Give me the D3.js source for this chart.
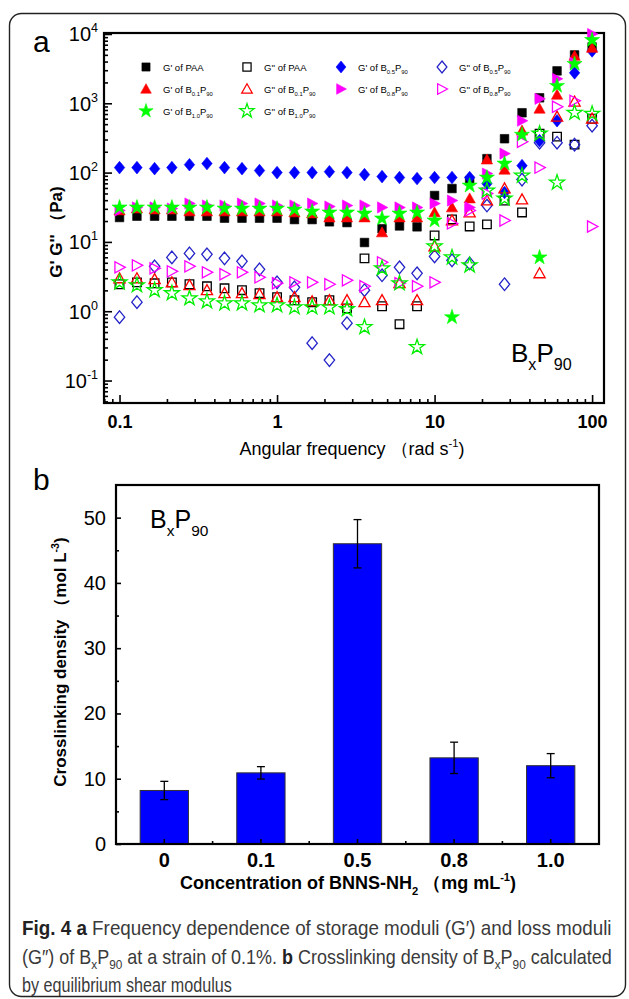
<!DOCTYPE html>
<html><head><meta charset="utf-8">
<script src="https://cdn.jsdelivr.net/npm/d3@7"></script>
<style>body{margin:0;background:#fff}svg{display:block}text{font-family:Arial,"Liberation Sans",sans-serif}</style>
</head><body><svg id="c" width="629" height="999"></svg>
<script>
// ---------- Panel a data ----------
const freq = [0.1,0.129,0.167,0.215,0.278,0.359,0.464,0.599,0.774,1,1.29,1.67,2.15,2.78,3.59,4.64,5.99,7.74,10,12.9,16.7,21.5,27.8,35.9,46.4,59.9,77.4,100];
const gpPAA   = [22.5,23.5,23.5,23.5,23.5,23.5,22.0,22.0,22.0,22.0,21.0,21.0,19.5,19.0,9.8,15.5,17.0,16.5,46.7,58.9,76.7,159,308,730,1200,2935,4990,6500];
const gppPAA  = [2.45,2.61,2.53,2.61,2.45,2.29,2.14,2.01,1.82,1.59,1.44,1.35,1.44,1.10,5.79,1.18,0.65,1.18,12.4,21.1,16.7,17.9,39.5,26.6,364,330,253,598];
const gpB05   = [118,118,114,118,130,135,118,114,107,100,100,100,103,100,93.6,87.6,84.8,82.0,84.8,84.8,84.8,69.4,51.5,126,289,560,2747,5692];
const gppB05  = [0.82,1.35,4.44,5.98,6.83,6.61,5.79,5.24,4.02,2.61,2.21,0.346,0.197,0.672,2.01,3.30,4.30,3.52,6.18,5.42,4.90,33.5,2.45,79.3,270,270,253,475];
const gpB01   = [28.4,30.3,29.3,29.3,27.5,27.5,27.5,27.5,27.5,27.5,26.6,25.7,22.5,22.5,22.5,13.7,22.5,22.5,26.6,31.4,42.3,154,110,402,834,1326,4826,6290];
const gppB01  = [2.98,2.98,2.89,2.61,2.37,2.01,1.82,1.82,1.76,1.59,1.59,1.39,1.44,1.44,1.35,1.44,2.53,1.44,8.62,20.4,26.6,39.5,58.9,40.9,3.52,639,1051,598];
const gpB08   = [28.4,31.4,31.4,30.3,35.8,33.5,33.5,35.8,35.8,33.5,33.5,35.8,32.4,33.5,33.5,31.4,31.4,31.4,35.8,39.5,31.4,96.7,188,560,1161,2252,3825,10000];
const gppB08  = [4.30,4.59,4.16,3.76,4.44,3.64,3.41,3.64,3.08,2.53,2.61,2.61,2.45,2.79,2.29,5.07,2.53,2.29,2.61,18.5,28.4,49.9,20.4,279,118,890,1086,16.7];
const gpB10   = [31.4,31.4,31.4,31.4,31.4,31.4,30.3,30.3,30.3,30.3,29.3,27.5,26.6,26.6,25.7,21.8,25.7,26.6,20.4,0.82,65.0,84.8,135,352,5.98,1786,3700,8199];
const gppB10  = [2.61,2.37,2.01,1.82,1.54,1.39,1.30,1.30,1.22,1.22,1.14,1.14,1.14,1.07,0.589,4.16,2.53,0.303,8.62,5.98,4.59,55.1,42.3,90.5,364,71.8,730,706];
const xTicksA = [0.1,1,10,100];
const xTickLabelsA = ["0.1","1","10","100"];
const yTicksA = [0.1,1,10,100,1000,10000];
const yTickExpA = ["-1","0","1","2","3","4"];

// ---------- Panel b data ----------
const concCats = ["0","0.1","0.5","0.8","1.0"];
const crossDensity = [8.2,10.9,46.0,13.2,12.0];
const crossErr = [1.4,0.95,3.7,2.4,1.85];
const yTicksB = [0,10,20,30,40,50];

const svg = d3.select("#c");
const AR = "Arial,'Liberation Sans',sans-serif";

function rich(sel, parts, base){
  let shift = 0;
  parts.forEach(p=>{
    const t=p[0], k=p[1]||"n";
    const target = k==="sub"? base*0.32 : k==="sup"? -base*0.42 : 0;
    const s = sel.append("tspan").text(t).attr("dy", target-shift);
    shift = target;
    if(k==="sub"||k==="sup") s.attr("font-size", base*0.62);
  });
}

svg.append("rect").attr("x",9.5).attr("y",13.5).attr("width",616).attr("height",983)
  .attr("rx",12).attr("fill","none").attr("stroke","#222").attr("stroke-width",1.4);

// ================= Panel a =================
const xA = d3.scaleLog().domain([0.0797,119]).range([104,604]);
const yA = d3.scaleLog().domain([0.0474,10330]).range([403,33]);
const gA = svg.append("g");

const xMinorA=[], yMinorA=[];
[0.01,0.1,1,10,100].forEach(d=>{for(let k=2;k<=9;k++){const v=d*k; if(v>0.079&&v<119) xMinorA.push(v);}});
[0.01,0.1,1,10,100,1000].forEach(d=>{for(let k=2;k<=9;k++){const v=d*k; if(v>0.0474&&v<10330) yMinorA.push(v);}});

function styleAxis(g){ g.select(".domain").remove(); g.selectAll(".tick line").attr("stroke","#000").attr("stroke-width",1.6); }

gA.append("g").attr("transform","translate(0,403)")
  .call(d3.axisBottom(xA).tickValues(xMinorA).tickSize(-4).tickFormat("")).call(styleAxis);
gA.append("g").attr("transform","translate(0,403)")
  .call(d3.axisBottom(xA).tickValues(xTicksA).tickSize(-8).tickPadding(12).tickFormat((d,i)=>xTickLabelsA[i]))
  .call(styleAxis)
  .call(g=>g.selectAll("text").attr("font-size",18).attr("font-weight","bold").attr("fill","#000").attr("font-family",AR));
gA.append("g").attr("transform","translate(104,0)")
  .call(d3.axisLeft(yA).tickValues(yMinorA).tickSize(-4).tickFormat("")).call(styleAxis);
const yAx = gA.append("g").attr("transform","translate(104,0)")
  .call(d3.axisLeft(yA).tickValues(yTicksA).tickSize(-8).tickFormat("")).call(styleAxis);
yAx.selectAll(".tick").each(function(d,i){
  const t = d3.select(this).append("text").attr("x",-6).attr("y",7).attr("text-anchor","end")
    .attr("fill","#000").attr("font-size",20).attr("font-family",AR);
  t.append("tspan").text("10");
  t.append("tspan").text(yTickExpA[i]).attr("font-size",12.5).attr("dy",-9);
});

gA.append("rect").attr("x",104).attr("y",33).attr("width",500).attr("height",370)
  .attr("fill","none").attr("stroke","#000").attr("stroke-width",2.2);

const P = {
  square: "M-4.3,-4.3H4.3V4.3H-4.3Z",
  diamond: "M0,-6.3L5.2,0L0,6.3L-5.2,0Z",
  triUp: "M0,-5.6L5.6,4.4L-5.6,4.4Z",
  triRight: "M-4.6,-5.6L5.8,0L-4.6,5.6Z",
  star: d3.symbol(d3.symbolStar,70)()
};
const series = [
  {data:gpPAA,  shape:"square",  color:"#000", filled:true,  label:[["G' of PAA"]]},
  {data:gppPAA, shape:"square",  color:"#000", filled:false, label:[["G'' of PAA"]]},
  {data:gpB05,  shape:"diamond", color:"#0000ff", filled:true, label:[["G' of B"],["0.5","sub"],["P"],["90","sub"]]},
  {data:gppB05, shape:"diamond", color:"#2323c8", filled:false, label:[["G'' of B"],["0.5","sub"],["P"],["90","sub"]]},
  {data:gpB01,  shape:"triUp",   color:"#ff0000", filled:true, label:[["G' of B"],["0.1","sub"],["P"],["90","sub"]]},
  {data:gppB01, shape:"triUp",   color:"#ff0000", filled:false, label:[["G'' of B"],["0.1","sub"],["P"],["90","sub"]]},
  {data:gpB08,  shape:"triRight",color:"#ff00ff", filled:true, label:[["G' of B"],["0.8","sub"],["P"],["90","sub"]]},
  {data:gppB08, shape:"triRight",color:"#ff00ff", filled:false, label:[["G'' of B"],["0.8","sub"],["P"],["90","sub"]]},
  {data:gpB10,  shape:"star",    color:"#00ff00", filled:true, label:[["G' of B"],["1.0","sub"],["P"],["90","sub"]]},
  {data:gppB10, shape:"star",    color:"#00ee00", filled:false, label:[["G'' of B"],["1.0","sub"],["P"],["90","sub"]]}
];
function mark(sel, s){
  sel.attr("d",P[s.shape])
    .attr("fill", s.filled? s.color : "none")
    .attr("stroke", s.color).attr("stroke-width", s.filled?0.6:1.3);
}
const plotG = gA.append("g");
series.forEach(s=>{
  plotG.append("g").selectAll("path").data(s.data.map((v,i)=>[freq[i],v])).join("path")
    .attr("transform",d=>`translate(${xA(d[0])},${yA(d[1])})`)
    .call(sel=>mark(sel,s));
});

const legX = [146,247,341,442], legY=[67,89,111];
series.forEach((s,i)=>{
  const col = i%4, row = Math.floor(i/4);
  const g = gA.append("g").attr("transform",`translate(${legX[col]},${legY[row]})`);
  g.append("path").attr("transform","scale(0.95)").call(sel=>mark(sel,s));
  const t = g.append("text").attr("x",17).attr("y",4).attr("font-size",9.5).attr("fill","#000");
  rich(t, s.label, 9.5);
});

{
  const t = gA.append("text").attr("x",511).attr("y",362).attr("font-size",26).attr("fill","#000");
  rich(t,[["B"],["x","sub"],["P"],["90","sub"]],26);
}
{
  const t = svg.append("text").attr("x",352).attr("y",455).attr("text-anchor","middle").attr("font-size",18).attr("fill","#000");
  rich(t,[["Angular frequency  （rad s"],["-1","sup"],[")"]],18);
  svg.append("text").attr("transform","translate(62,232) rotate(-90)").attr("text-anchor","middle")
    .attr("font-size",17).attr("font-weight","bold").attr("fill","#000").text("G' G''  （Pa)");
}
svg.append("text").attr("x",33).attr("y",52).attr("font-size",30).attr("fill","#000").text("a");

// ================= Panel b =================
const xB = d3.scaleBand().domain(concCats).range([116,599]).paddingInner(0.5).paddingOuter(0.25);
const yB = d3.scaleLinear().domain([0,55]).range([844,485]);
const gB = svg.append("g");

gB.selectAll("rect.bar").data(crossDensity).join("rect").attr("class","bar")
  .attr("x",(d,i)=>xB(concCats[i])).attr("width",xB.bandwidth())
  .attr("y",d=>yB(d)).attr("height",d=>yB(0)-yB(d))
  .attr("fill","#0000ff").attr("stroke","#333").attr("stroke-width",1);

const eb = gB.append("g").attr("stroke","#000").attr("stroke-width",1.3);
crossDensity.forEach((v,i)=>{
  const cx = xB(concCats[i])+xB.bandwidth()/2;
  eb.append("line").attr("x1",cx).attr("x2",cx).attr("y1",yB(v+crossErr[i])).attr("y2",yB(v-crossErr[i]));
  eb.append("line").attr("x1",cx-4).attr("x2",cx+4).attr("y1",yB(v+crossErr[i])).attr("y2",yB(v+crossErr[i]));
  eb.append("line").attr("x1",cx-4).attr("x2",cx+4).attr("y1",yB(v-crossErr[i])).attr("y2",yB(v-crossErr[i]));
});

const yMinorB = yTicksB.slice(0,-1).map(d=>d+5);
gB.append("g").attr("transform","translate(116,0)")
  .call(d3.axisLeft(yB).tickValues(yMinorB).tickSize(-3).tickFormat("")).call(styleAxis);
gB.append("g").attr("transform","translate(116,0)")
  .call(d3.axisLeft(yB).tickValues(yTicksB).tickSize(-5).tickPadding(10))
  .call(styleAxis)
  .call(g=>g.selectAll("text").attr("font-size",20).attr("fill","#000").attr("font-family",AR));
gB.append("g").attr("transform","translate(0,844)")
  .call(d3.axisBottom(xB).tickSize(-5).tickPadding(9))
  .call(styleAxis)
  .call(g=>g.selectAll("text").attr("font-size",20).attr("font-weight","bold").attr("fill","#000").attr("font-family",AR));
const minorXB = concCats.slice(0,-1).map(c=>xB(c)+xB.bandwidth()/2+xB.step()/2);
gB.append("g").selectAll("line").data(minorXB).join("line")
  .attr("x1",d=>d).attr("x2",d=>d).attr("y1",844).attr("y2",841)
  .attr("stroke","#000").attr("stroke-width",1.6);

gB.append("rect").attr("x",116).attr("y",485).attr("width",483).attr("height",359)
  .attr("fill","none").attr("stroke","#000").attr("stroke-width",2.2);

{
  const t = gB.append("text").attr("x",150).attr("y",528).attr("font-size",25).attr("fill","#000");
  rich(t,[["B"],["x","sub"],["P"],["90","sub"]],25);
  const tx = svg.append("text").attr("x",348).attr("y",889).attr("text-anchor","middle").attr("font-size",18).attr("font-weight","bold").attr("fill","#000");
  rich(tx,[["Concentration of BNNS-NH"],["2","sub"],["  （mg mL"],["-1","sup"],[")"]],18);
  const ty = svg.append("text").attr("transform","translate(66,662) rotate(-90)").attr("text-anchor","middle")
    .attr("font-size",17).attr("font-weight","bold").attr("fill","#000");
  rich(ty,[["Crosslinking density  （mol L"],["-3","sup"],[")"]],17);
}
svg.append("text").attr("x",33).attr("y",490).attr("font-size",30).attr("fill","#000").text("b");

// ================= Caption =================
const capFont = "Lato,'Open Sans',Roboto,sans-serif";
function capLine(y, parts){
  const g = svg.append("g").attr("transform",`translate(22,${y})`);
  const t = g.append("text").attr("x",0).attr("y",0).attr("font-size",20.5).attr("fill","#3a3a3a")
    .attr("font-family",capFont).attr("font-weight",300);
  let shift=0;
  parts.forEach(p=>{
    const k=p[1]||"n";
    const target2 = k==="sub"?5:0;
    const s=t.append("tspan").text(p[0]).attr("dy",target2-shift); shift=target2;
    if(k==="sub") s.attr("font-size",13.5);
    if(k==="b") s.attr("font-weight","bold").attr("fill","#222");
  });
  return {g, len: t.node().getComputedTextLength()};
}
const c1 = capLine(935,[["Fig. 4","b"],[" "],["a","b"],[" Frequency dependence of storage moduli (G′) and loss moduli"]]);
const c2 = capLine(964,[["(G″) of B"],["x","sub"],["P"],["90","sub"],[" at a strain of 0.1%. "],["b","b"],[" Crosslinking density of B"],["x","sub"],["P"],["90","sub"],[" calculated"]]);
const c3 = capLine(992,[["by equilibrium shear modulus"]]);
const k1 = c1.len>0 ? 590/c1.len : 1;
const k2 = c2.len>0 ? 590/c2.len : 1;
const k3 = c3.len>0 ? Math.max(210/c3.len, k1*0.85) : 1;
c1.g.attr("transform",`translate(22,935) scale(${k1},1)`);
c2.g.attr("transform",`translate(22,964) scale(${k2},1)`);
c3.g.attr("transform",`translate(22,992) scale(${k3},1)`);
</script></body></html>
